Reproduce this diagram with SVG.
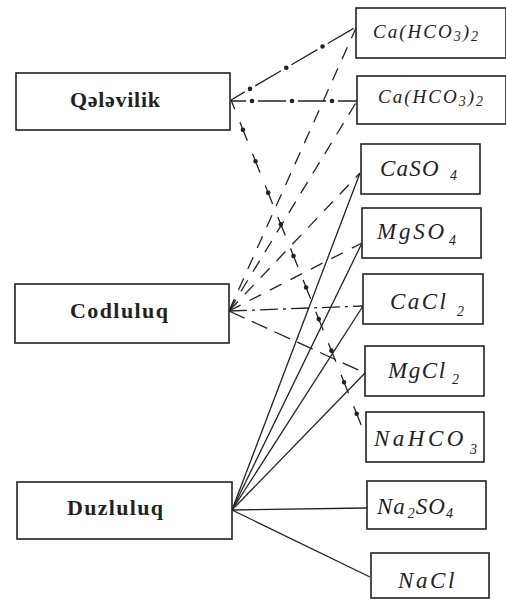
<svg xmlns="http://www.w3.org/2000/svg" width="506" height="600" viewBox="0 0 506 600">
<style>
.box{fill:#fff;stroke:#222;stroke-width:1.6}
.lbl{font-family:"Liberation Serif","Times New Roman",serif;font-weight:bold;font-size:22px;fill:#222;text-anchor:middle}
.chem{font-family:"Liberation Serif","Times New Roman",serif;font-style:italic;font-size:23px;fill:#222}
.sm{font-size:19px}
.sub{font-size:14px}
.ln{fill:none;stroke:#222;stroke-width:1.3}
.dash{stroke-dasharray:13 10}
.dot{fill:none;stroke:#222;stroke-width:4.6;stroke-linecap:round}
</style>
<rect width="506" height="600" fill="#fff"/>
<g id="connectors">
  <!-- Qələvilik dash-dot lines -->
  <path class="ln" d="M231,100 L356,27" stroke-dasharray="30 12" stroke-dashoffset="14"/>
  <path class="dot" d="M231,100 L356,27" stroke-dasharray="0 42" stroke-dashoffset="-22"/>
  <path class="ln" d="M231,101 L357,101" stroke-dasharray="28 12" stroke-dashoffset="13"/>
  <path class="dot" d="M231,101 L357,101" stroke-dasharray="0 40" stroke-dashoffset="-21"/>
  <path class="ln" d="M231,100 L366,437" stroke-dasharray="20 14" stroke-dashoffset="10"/>
  <path class="dot" d="M231,100 L366,437" stroke-dasharray="0 34" stroke-dashoffset="-32"/>
  <!-- Codluluq dashed lines -->
  <path class="ln dash" d="M229,311 L356,28"/>
  <path class="ln dash" d="M229,311 L357,101"/>
  <path class="ln dash" d="M229,311 L360,173"/>
  <path class="ln dash" d="M229,311 L362,243"/>
  <path class="ln" d="M229,311 L363,306" stroke-dasharray="18 5 3 5"/>
  <path class="ln" d="M229,311 L365,373" stroke-dasharray="17 8"/>
  <!-- Duzluluq solid lines -->
  <path class="ln" d="M232,510 L360,173"/>
  <path class="ln" d="M232,510 L362,243"/>
  <path class="ln" d="M232,510 L363,306"/>
  <path class="ln" d="M232,510 L365,373"/>
  <path class="ln" d="M232,510 L367,508"/>
  <path class="ln" d="M232,510 L370,577"/>
</g>
<g id="qelevilik">
  <rect class="box" x="16" y="73" width="214" height="57"/>
  <text class="lbl" x="115" y="107" textLength="90" lengthAdjust="spacing">Qələvilik</text>
</g>
<g id="codluluq">
  <rect class="box" x="15" y="284" width="214" height="59"/>
  <text class="lbl" x="119" y="318" textLength="98" lengthAdjust="spacing">Codluluq</text>
</g>
<g id="duzluluq">
  <rect class="box" x="17" y="482" width="215" height="57"/>
  <text class="lbl" x="115" y="515" textLength="96" lengthAdjust="spacing">Duzluluq</text>
</g>
<g id="caHCO3-1">
  <rect class="box" x="356" y="8" width="150" height="50"/>
  <text class="chem sm" x="373" y="38" letter-spacing="2">Ca(HCO<tspan class="sub" dy="3">3</tspan><tspan dy="-3">)</tspan><tspan class="sub" dy="3">2</tspan></text>
</g>
<g id="caHCO3-2">
  <rect class="box" x="357" y="76" width="149" height="48"/>
  <text class="chem sm" x="378" y="103" letter-spacing="2">Ca(HCO<tspan class="sub" dy="3">3</tspan><tspan dy="-3">)</tspan><tspan class="sub" dy="3">2</tspan></text>
</g>
<g id="caSO4">
  <rect class="box" x="361" y="144" width="119" height="50"/>
  <text class="chem" x="380" y="176" letter-spacing="1.2">CaSO</text>
  <text class="chem sub" x="450" y="180">4</text>
</g>
<g id="mgSO4">
  <rect class="box" x="362" y="208" width="119" height="50"/>
  <text class="chem" x="377" y="239" letter-spacing="2.8">MgSO</text>
  <text class="chem sub" x="449" y="245">4</text>
</g>
<g id="caCl2">
  <rect class="box" x="363" y="274" width="120" height="50"/>
  <text class="chem" x="390" y="309" letter-spacing="2.4">CaCl</text>
  <text class="chem sub" x="457" y="316">2</text>
</g>
<g id="mgCl2">
  <rect class="box" x="365" y="346" width="119" height="50"/>
  <text class="chem" x="388" y="378" letter-spacing="1.6">MgCl</text>
  <text class="chem sub" x="452" y="384">2</text>
</g>
<g id="naHCO3">
  <rect class="box" x="366" y="412" width="118" height="50"/>
  <text class="chem" x="374" y="446" letter-spacing="3.5">NaHCO</text>
  <text class="chem sub" x="470" y="454">3</text>
</g>
<g id="na2SO4">
  <rect class="box" x="367" y="481" width="119" height="48"/>
  <text class="chem" x="377" y="514" letter-spacing="1">Na<tspan class="sub" dy="4" dx="2">2</tspan><tspan dy="-4">SO</tspan><tspan class="sub" dy="4">4</tspan></text>
</g>
<g id="naCl">
  <rect class="box" x="371" y="553" width="118" height="45"/>
  <text class="chem" x="398" y="588" letter-spacing="2.6">NaCl</text>
</g>
</svg>
